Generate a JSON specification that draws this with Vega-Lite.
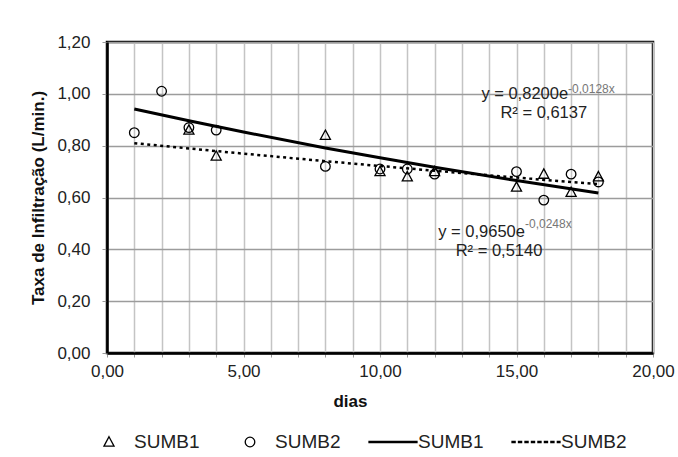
{
  "$schema": "https://vega.github.io/schema/vega-lite/v6.json",
  "width": 546,
  "height": 311,
  "autosize": {"type": "none"},
  "padding": {"left": 107, "top": 42, "right": 25, "bottom": 104},
  "background": "white",
  "config": {
    "view": {"stroke": "black", "strokeWidth": 2.5},
    "font": "Liberation Sans"
  },
  "datasets": {
    "pts": [
      {"dias": 3, "taxa": 0.86, "series": "SUMB1 pts"},
      {"dias": 4, "taxa": 0.76, "series": "SUMB1 pts"},
      {"dias": 8, "taxa": 0.84, "series": "SUMB1 pts"},
      {"dias": 10, "taxa": 0.70, "series": "SUMB1 pts"},
      {"dias": 11, "taxa": 0.68, "series": "SUMB1 pts"},
      {"dias": 12, "taxa": 0.70, "series": "SUMB1 pts"},
      {"dias": 15, "taxa": 0.64, "series": "SUMB1 pts"},
      {"dias": 16, "taxa": 0.69, "series": "SUMB1 pts"},
      {"dias": 17, "taxa": 0.62, "series": "SUMB1 pts"},
      {"dias": 18, "taxa": 0.68, "series": "SUMB1 pts"},
      {"dias": 1, "taxa": 0.85, "series": "SUMB2 pts"},
      {"dias": 2, "taxa": 1.01, "series": "SUMB2 pts"},
      {"dias": 3, "taxa": 0.87, "series": "SUMB2 pts"},
      {"dias": 4, "taxa": 0.86, "series": "SUMB2 pts"},
      {"dias": 8, "taxa": 0.72, "series": "SUMB2 pts"},
      {"dias": 10, "taxa": 0.71, "series": "SUMB2 pts"},
      {"dias": 11, "taxa": 0.71, "series": "SUMB2 pts"},
      {"dias": 12, "taxa": 0.69, "series": "SUMB2 pts"},
      {"dias": 15, "taxa": 0.70, "series": "SUMB2 pts"},
      {"dias": 16, "taxa": 0.59, "series": "SUMB2 pts"},
      {"dias": 17, "taxa": 0.69, "series": "SUMB2 pts"},
      {"dias": 18, "taxa": 0.66, "series": "SUMB2 pts"}
    ],
    "trend": [
      {"dias": 1, "taxa": 0.9414, "series": "SUMB1 trend"},
      {"dias": 3, "taxa": 0.8958, "series": "SUMB1 trend"},
      {"dias": 5, "taxa": 0.8525, "series": "SUMB1 trend"},
      {"dias": 8, "taxa": 0.7913, "series": "SUMB1 trend"},
      {"dias": 10, "taxa": 0.7531, "series": "SUMB1 trend"},
      {"dias": 12, "taxa": 0.7166, "series": "SUMB1 trend"},
      {"dias": 15, "taxa": 0.6652, "series": "SUMB1 trend"},
      {"dias": 18, "taxa": 0.6175, "series": "SUMB1 trend"},
      {"dias": 1, "taxa": 0.8096, "series": "SUMB2 trend"},
      {"dias": 3, "taxa": 0.7891, "series": "SUMB2 trend"},
      {"dias": 5, "taxa": 0.7692, "series": "SUMB2 trend"},
      {"dias": 8, "taxa": 0.7402, "series": "SUMB2 trend"},
      {"dias": 10, "taxa": 0.7215, "series": "SUMB2 trend"},
      {"dias": 12, "taxa": 0.7032, "series": "SUMB2 trend"},
      {"dias": 15, "taxa": 0.6768, "series": "SUMB2 trend"},
      {"dias": 18, "taxa": 0.6513, "series": "SUMB2 trend"}
    ],
    "notes": [
      {"dias": 16.89, "taxa": 0.999, "kind": "main", "label": "y = 0,8200e"},
      {"dias": 16.89, "taxa": 1.02, "kind": "sup", "label": "-0,0128x"},
      {"dias": 16.0, "taxa": 0.927, "kind": "r2", "label": "R² = 0,6137"},
      {"dias": 15.31, "taxa": 0.467, "kind": "main", "label": "y = 0,9650e"},
      {"dias": 15.31, "taxa": 0.496, "kind": "sup", "label": "-0,0248x"},
      {"dias": 14.36, "taxa": 0.395, "kind": "r2", "label": "R² = 0,5140"}
    ]
  },
  "encoding": {
    "x": {
      "field": "dias", "type": "quantitative",
      "scale": {"domain": [0, 20], "nice": false, "zero": false},
      "axis": {
        "title": "dias",
        "values": [0,1,2,3,4,5,6,7,8,9,10,11,12,13,14,15,16,17,18,19,20],
        "labelExpr": "datum.value % 5 === 0 ? replace(format(datum.value, '.2f'), '.', ',') : ''",
        "labelFontSize": 17, "labelColor": "#222", "labelPadding": 6,
        "labelFont": "Liberation Sans", "labelFlush": false, "labelOverlap": false,
        "titleFont": "Liberation Sans", "titleFontSize": 17, "titleFontWeight": "bold", "titleColor": "#111",
        "titleX": 243, "titlePadding": 14,
        "grid": true, "gridColor": "#c4c4c4", "gridWidth": 1.5,
        "domainColor": "black", "domainWidth": 2.5,
        "tickColor": "#999", "tickSize": 4, "tickWidth": 1
      }
    },
    "y": {
      "field": "taxa", "type": "quantitative",
      "scale": {"domain": [0, 1.2], "nice": false},
      "axis": {
        "title": "Taxa de Infiltração (L/min.)",
        "values": [0, 0.2, 0.4, 0.6, 0.8, 1.0, 1.2],
        "labelExpr": "replace(format(datum.value, '.2f'), '.', ',')",
        "labelFontSize": 17, "labelColor": "#222", "labelPadding": 12,
        "labelFont": "Liberation Sans",
        "titleFont": "Liberation Sans", "titleFontSize": 17, "titleFontWeight": "bold", "titleColor": "#111",
        "titlePadding": 9,
        "grid": true, "gridColor": "#9c9c9c", "gridWidth": 1.5,
        "domainColor": "black", "domainWidth": 2.5,
        "tickColor": "#999", "tickSize": 5, "tickWidth": 1
      }
    }
  },
  "layer": [
    {
      "data": {"name": "trend"},
      "transform": [{"filter": "datum.series === 'SUMB1 trend'"}],
      "mark": {"type": "line", "color": "black", "strokeWidth": 3},
      "encoding": {}
    },
    {
      "data": {"name": "trend"},
      "transform": [{"filter": "datum.series === 'SUMB2 trend'"}],
      "mark": {"type": "line", "color": "black", "strokeWidth": 2.5, "strokeDash": [3, 3.5]},
      "encoding": {}
    },
    {
      "data": {"name": "pts"},
      "mark": {"type": "point", "filled": false, "color": "black", "strokeWidth": 1.3, "size": 2300, "opacity": 1},
      "encoding": {
        "shape": {
          "field": "series", "type": "nominal",
          "scale": {
            "domain": ["SUMB1 pts", "SUMB2 pts", "SUMB1 trend", "SUMB2 trend"],
            "range": [
              "M0,-0.22L0.21,0.17L-0.21,0.17Z",
              "M0.2,0A0.2,0.2 0 1,1 -0.2,0A0.2,0.2 0 1,1 0.2,0Z",
              "M-1,-0.03H1V0.03H-1Z",
              "M-1,-0.03H-0.87V0.03H-1ZM-0.73,-0.03H-0.6V0.03H-0.73ZM-0.46,-0.03H-0.33V0.03H-0.46ZM-0.19,-0.03H-0.06V0.03H-0.19ZM0.08,-0.03H0.21V0.03H0.08ZM0.35,-0.03H0.48V0.03H0.35ZM0.62,-0.03H0.75V0.03H0.62ZM0.89,-0.03H1V0.03H0.89Z"
            ]
          },
          "legend": {
            "title": null,
            "orient": "none",
            "legendX": -23,
            "legendY": 375,
            "direction": "horizontal",
            "columns": 4,
            "symbolSize": 2300,
            "symbolStrokeColor": "black",
            "symbolStrokeWidth": 1.3,
            "symbolFillColor": "transparent",
            "labelExpr": "datum.value === 'SUMB1 pts' || datum.value === 'SUMB1 trend' ? 'SUMB1' : 'SUMB2'",
            "labelFont": "Liberation Sans",
            "labelFontSize": 19,
            "labelColor": "#222",
            "labelOffset": 0,
            "columnPadding": 25,
            "labelLimit": 200
          }
        }
      }
    },
    {
      "data": {"name": "notes"},
      "transform": [{"filter": "datum.kind === 'main'"}],
      "mark": {"type": "text", "align": "right", "baseline": "middle", "fontSize": 16.5, "color": "#222", "font": "Liberation Sans"},
      "encoding": {"text": {"field": "label"}}
    },
    {
      "data": {"name": "notes"},
      "transform": [{"filter": "datum.kind === 'sup'"}],
      "mark": {"type": "text", "align": "left", "baseline": "middle", "fontSize": 12, "color": "#777", "font": "Liberation Sans"},
      "encoding": {"text": {"field": "label"}}
    },
    {
      "data": {"name": "notes"},
      "transform": [{"filter": "datum.kind === 'r2'"}],
      "mark": {"type": "text", "align": "center", "baseline": "middle", "fontSize": 16.5, "color": "#222", "font": "Liberation Sans"},
      "encoding": {"text": {"field": "label"}}
    }
  ]
}
